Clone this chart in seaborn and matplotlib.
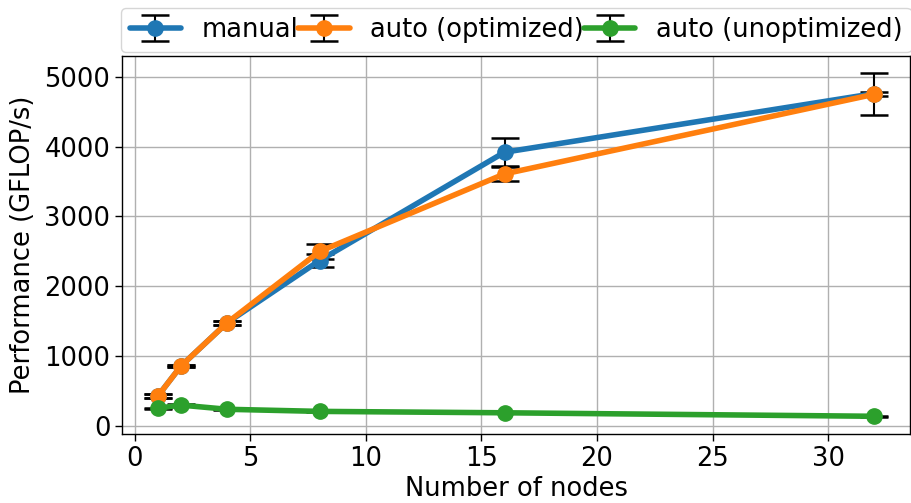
import matplotlib
matplotlib.use("Agg")
import matplotlib.pyplot as plt
import seaborn as sns
import numpy as np

# Benchmark results: mean performance and spread per node count
nodes = [1, 2, 4, 8, 16, 32]
manual_perf = [430, 860, 1480, 2370, 3920, 4760]
manual_err = [30, 15, 30, 100, 200, 300]
auto_opt_perf = [430, 860, 1480, 2500, 3610, 4750]
auto_opt_err = [30, 15, 30, 110, 100, 30]
auto_unopt_perf = [255, 300, 240, 210, 190, 140]
auto_unopt_err = [10, 10, 10, 10, 10, 10]

series = [
    ("manual", manual_perf, manual_err),
    ("auto (optimized)", auto_opt_perf, auto_opt_err),
    ("auto (unoptimized)", auto_unopt_perf, auto_unopt_err),
]

sns.set_theme(style="ticks", context="notebook")
plt.rcParams["font.family"] = ["DejaVu Sans"]
plt.rcParams.update({"text.color": "black", "axes.labelcolor": "black",
                     "xtick.color": "black", "ytick.color": "black"})
palette = sns.color_palette("tab10", 3)

fig = plt.figure(figsize=(9.11, 5.03), dpi=100)
ax = fig.add_axes([0.134, 0.137, 0.865, 0.752])

for (label, perf, err), color in zip(series, palette):
    ax.errorbar(nodes, perf, yerr=err, label=label, color=color,
                linewidth=4, marker="o", markersize=11,
                ecolor="black", elinewidth=1.5, capsize=10, capthick=1.8)

ax.grid(True, color="#b0b0b0", linewidth=1)
ax.set_axisbelow(True)
for side in ["top", "right", "left", "bottom"]:
    ax.spines[side].set_visible(True)
    ax.spines[side].set_color("black")
    ax.spines[side].set_linewidth(1)
ax.tick_params(labelsize=18.5, direction="out", length=5, width=1, colors="black")
ax.set_xlabel("Number of nodes", fontsize=18.5, labelpad=3)
ax.set_ylabel("Performance (GFLOP/s)", fontsize=18.5, labelpad=6)
ax.set_xticks([0, 5, 10, 15, 20, 25, 30])
ax.set_yticks([0, 1000, 2000, 3000, 4000, 5000])
ax.set_xlim(-0.55, 33.55)
ax.set_ylim(-115, 5300)

ax.legend(loc="lower center", bbox_to_anchor=(0.5, 1.0), ncol=3, fontsize=18.5,
          frameon=True, columnspacing=0.0, handletextpad=0.8,
          borderaxespad=0.15, borderpad=0.35, edgecolor="#cccccc")

fig.savefig("out.png", dpi=100)
